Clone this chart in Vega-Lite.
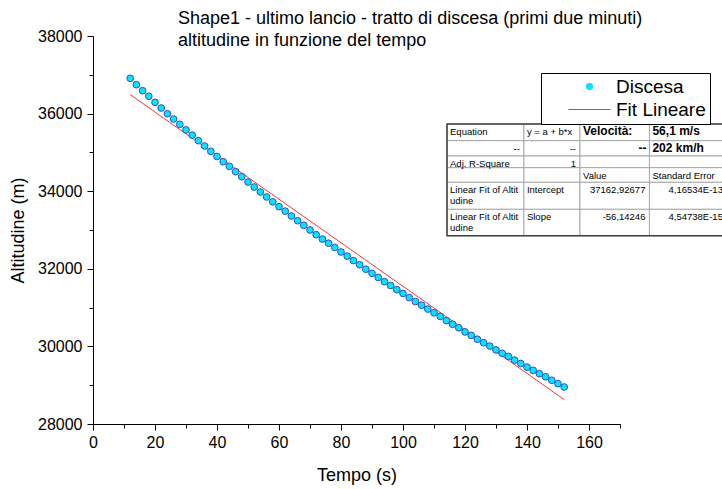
{
  "$schema": "https://vega.github.io/schema/vega-lite/v6.json",
  "width": 527,
  "height": 388,
  "autosize": {"type": "none"},
  "padding": {"left": 93, "top": 36, "right": 102, "bottom": 65},
  "background": "white",
  "config": {
    "view": {"stroke": null},
    "font": "Liberation Sans",
    "axis": {"grid": false, "domainColor": "black", "tickColor": "black", "labelColor": "black", "titleColor": "black", "labelFont": "Liberation Sans", "titleFont": "Liberation Sans", "titleFontWeight": "normal", "labelFontSize": 16, "titleFontSize": 18},
    "legend": {
      "orient": "none", "legendX": 448, "legendY": 37,
      "strokeColor": "black", "fillColor": "white", "padding": 4,
      "labelFontSize": 19, "labelFont": "Liberation Sans", "labelColor": "black",
      "symbolSize": 100, "symbolOffset": 35, "labelOffset": 17, "rowPadding": 3
    }
  },
  "title": {
    "text": ["Shape1 - ultimo lancio - tratto di discesa (primi due minuti)", "altitudine in funzione del tempo"],
    "anchor": "start", "frame": "group", "dx": 85, "offset": -22,
    "fontSize": 18, "fontWeight": "normal", "font": "Liberation Sans", "lineHeight": 22, "color": "black"
  },
  "datasets": {
    "discesa": [
      {"t": 12, "alt": 36910}, {"t": 14, "alt": 36745}, {"t": 16, "alt": 36590}, {"t": 18, "alt": 36446},
      {"t": 20, "alt": 36290}, {"t": 22, "alt": 36144}, {"t": 24, "alt": 35997}, {"t": 26, "alt": 35861},
      {"t": 28, "alt": 35724}, {"t": 30, "alt": 35580}, {"t": 32, "alt": 35445}, {"t": 34, "alt": 35302},
      {"t": 36, "alt": 35165}, {"t": 38, "alt": 35028}, {"t": 40, "alt": 34895}, {"t": 42, "alt": 34760},
      {"t": 44, "alt": 34640}, {"t": 46, "alt": 34503}, {"t": 48, "alt": 34374}, {"t": 50, "alt": 34235},
      {"t": 52, "alt": 34108}, {"t": 54, "alt": 33979}, {"t": 56, "alt": 33851}, {"t": 58, "alt": 33725},
      {"t": 60, "alt": 33601}, {"t": 62, "alt": 33485}, {"t": 64, "alt": 33361}, {"t": 66, "alt": 33240},
      {"t": 68, "alt": 33121}, {"t": 70, "alt": 33000}, {"t": 72, "alt": 32879}, {"t": 74, "alt": 32765},
      {"t": 76, "alt": 32660}, {"t": 78, "alt": 32549}, {"t": 80, "alt": 32433}, {"t": 82, "alt": 32328},
      {"t": 84, "alt": 32212}, {"t": 86, "alt": 32104}, {"t": 88, "alt": 31990}, {"t": 90, "alt": 31884},
      {"t": 92, "alt": 31778}, {"t": 94, "alt": 31668}, {"t": 96, "alt": 31570}, {"t": 98, "alt": 31463},
      {"t": 100, "alt": 31365}, {"t": 102, "alt": 31258}, {"t": 104, "alt": 31156}, {"t": 106, "alt": 31062},
      {"t": 108, "alt": 30962}, {"t": 110, "alt": 30866}, {"t": 112, "alt": 30772}, {"t": 114, "alt": 30665},
      {"t": 116, "alt": 30572}, {"t": 118, "alt": 30480}, {"t": 120, "alt": 30374}, {"t": 122, "alt": 30284},
      {"t": 124, "alt": 30185}, {"t": 126, "alt": 30095}, {"t": 128, "alt": 30008}, {"t": 130, "alt": 29910},
      {"t": 132, "alt": 29822}, {"t": 134, "alt": 29742}, {"t": 136, "alt": 29645}, {"t": 138, "alt": 29559},
      {"t": 140, "alt": 29466}, {"t": 142, "alt": 29384}, {"t": 144, "alt": 29296}, {"t": 146, "alt": 29217},
      {"t": 148, "alt": 29128}, {"t": 150, "alt": 29040}, {"t": 152, "alt": 28954}
    ],
    "fit": [
      {"t": 12, "alt": 36489.2},
      {"t": 152, "alt": 28629.3}
    ],
    "tabcol": [
      {"col": 0, "x0": 114.2, "x1": 139.0},
      {"col": 1, "x0": 139.0, "x1": 157.1},
      {"col": 2, "x0": 157.1, "x1": 179.5},
      {"col": 3, "x0": 179.5, "x1": 204.5}
    ],
    "tabrow": [
      {"row": 0, "ytop": 35732, "ybot": 35302},
      {"row": 1, "ytop": 35302, "ybot": 34907},
      {"row": 2, "ytop": 34907, "ybot": 34606},
      {"row": 3, "ytop": 34606, "ybot": 34229},
      {"row": 4, "ytop": 34229, "ybot": 33533},
      {"row": 5, "ytop": 33533, "ybot": 32853}
    ],
    "cells": [
      {"row": 0, "col": 0, "text": "Equation"},
      {"row": 0, "col": 1, "text": "y = a + b*x"},
      {"row": 0, "col": 2, "text": "Velocità:"},
      {"row": 0, "col": 3, "text": "56,1 m/s"},
      {"row": 1, "col": 0, "text": "--"},
      {"row": 1, "col": 1, "text": "--"},
      {"row": 1, "col": 2, "text": "--"},
      {"row": 1, "col": 3, "text": "202 km/h"},
      {"row": 2, "col": 0, "text": "Adj. R-Square"},
      {"row": 2, "col": 1, "text": "1"},
      {"row": 2, "col": 2, "text": ""},
      {"row": 2, "col": 3, "text": ""},
      {"row": 3, "col": 0, "text": ""},
      {"row": 3, "col": 1, "text": ""},
      {"row": 3, "col": 2, "text": "Value"},
      {"row": 3, "col": 3, "text": "Standard Error"},
      {"row": 4, "col": 0, "text": ["Linear Fit of Altit", "udine"]},
      {"row": 4, "col": 1, "text": "Intercept"},
      {"row": 4, "col": 2, "text": "37162,92677"},
      {"row": 4, "col": 3, "text": "4,16534E-13"},
      {"row": 5, "col": 0, "text": ["Linear Fit of Altit", "udine"]},
      {"row": 5, "col": 1, "text": "Slope"},
      {"row": 5, "col": 2, "text": "-56,14246"},
      {"row": 5, "col": 3, "text": "4,54738E-15"}
    ]
  },
  "encoding": {
    "x": {"field": "t", "type": "quantitative", "scale": {"domain": [0, 170], "nice": false, "zero": false},
      "axis": {"title": "Tempo (s)", "values": [0,10,20,30,40,50,60,70,80,90,100,110,120,130,140,150,160,170],
        "labelExpr": "datum.value % 20 === 0 ? datum.label : ''", "format": "d",
        "tickSize": {"condition": {"test": "datum.value % 20 === 0", "value": 6}, "value": 4},
        "labelPadding": 4, "titlePadding": 16, "labelFlush": false, "labelOverlap": false}},
    "y": {"field": "alt", "type": "quantitative", "scale": {"domain": [28000, 38000], "nice": false, "zero": false},
      "axis": {"title": "Altitudine (m)", "values": [28000,29000,30000,31000,32000,33000,34000,35000,36000,37000,38000],
        "labelExpr": "datum.value % 2000 === 0 ? datum.label : ''", "format": "d",
        "tickSize": {"condition": {"test": "datum.value % 2000 === 0", "value": 6}, "value": 4},
        "labelPadding": 5, "titlePadding": 10, "labelFlush": false, "labelOverlap": false}}
  },
  "layer": [
    {
      "data": {"name": "fit"},
      "mark": {"type": "line", "strokeWidth": 1, "clip": false},
      "encoding": {
        "color": {"datum": "Fit Lineare", "type": "nominal",
          "scale": {"domain": ["Discesa", "Fit Lineare"], "range": ["#00e8ff", "#ff3333"]},
          "legend": {
            "title": null,
            "labelExpr": "datum.label + '\u00a0\u00a0\u00a0\u00a0\u00a0\u00a0'",
            "encode": {"symbols": {"update": {
              "shape": {"signal": "datum.value === 'Discesa' ? 'circle' : 'M-4,0H4'"},
              "size": {"signal": "datum.value === 'Discesa' ? 42 : 110"},
              "fill": {"signal": "datum.value === 'Discesa' ? '#00e8ff' : 'transparent'"},
              "stroke": {"signal": "datum.value === 'Discesa' ? '#3b4cc0' : '#ff3333'"},
              "strokeWidth": {"value": 1},
              "opacity": {"value": 1}
            }}}
          }}
      }
    },
    {
      "data": {"name": "discesa"},
      "mark": {"type": "point", "filled": true, "size": 45, "stroke": "#3b4cc0", "strokeWidth": 1, "opacity": 1, "clip": false},
      "encoding": {
        "color": {"datum": "Discesa", "type": "nominal", "legend": null}
      }
    },
    {
      "data": {"name": "cells"},
      "transform": [
        {"lookup": "col", "from": {"data": {"name": "tabcol"}, "key": "col", "fields": ["x0", "x1"]}, "as": ["t", "x1"]},
        {"lookup": "row", "from": {"data": {"name": "tabrow"}, "key": "row", "fields": ["ytop", "ybot"]}, "as": ["alt", "ybot"]}
      ],
      "mark": {"type": "rect", "fill": "white", "stroke": "#a8a8a8", "strokeWidth": 1, "clip": false},
      "encoding": {
        "x2": {"field": "x1"},
        "y2": {"field": "ybot"}
      }
    },
    {
      "data": {"name": "cells"},
      "transform": [
        {"lookup": "col", "from": {"data": {"name": "tabcol"}, "key": "col", "fields": ["x0", "x1"]}},
        {"lookup": "row", "from": {"data": {"name": "tabrow"}, "key": "row", "fields": ["ytop", "ybot"]}},
        {"aggregate": [{"op": "min", "field": "x0", "as": "t"}, {"op": "max", "field": "x1", "as": "x1"}, {"op": "max", "field": "ytop", "as": "alt"}, {"op": "min", "field": "ybot", "as": "ybot"}]}
      ],
      "mark": {"type": "rect", "fill": null, "fillOpacity": 0, "stroke": "#404040", "strokeWidth": 1.5, "clip": false},
      "encoding": {
        "x2": {"field": "x1"},
        "y2": {"field": "ybot"}
      }
    },
    {
      "data": {"name": "cells"},
      "transform": [
        {"filter": "!(datum.row < 2 && datum.col >= 2) && !test(/^[-0-9,E]+$/, datum.text)"},
        {"lookup": "col", "from": {"data": {"name": "tabcol"}, "key": "col", "fields": ["x0"]}, "as": ["t"]},
        {"lookup": "row", "from": {"data": {"name": "tabrow"}, "key": "row", "fields": ["ytop"]}, "as": ["alt"]}
      ],
      "mark": {"type": "text", "align": "left", "baseline": "top", "dx": 3, "dy": 3, "fontSize": 9.5, "font": "Liberation Sans", "color": "black", "lineHeight": 11, "clip": false},
      "encoding": {
        "text": {"field": "text"}
      }
    },
    {
      "data": {"name": "cells"},
      "transform": [
        {"filter": "!(datum.row < 2 && datum.col >= 2) && test(/^[-0-9,E]+$/, datum.text)"},
        {"lookup": "col", "from": {"data": {"name": "tabcol"}, "key": "col", "fields": ["x1"]}, "as": ["t"]},
        {"lookup": "row", "from": {"data": {"name": "tabrow"}, "key": "row", "fields": ["ytop"]}, "as": ["alt"]}
      ],
      "mark": {"type": "text", "align": "right", "baseline": "top", "dx": -4, "dy": 3, "fontSize": 9.5, "font": "Liberation Sans", "color": "black", "clip": false},
      "encoding": {
        "text": {"field": "text"}
      }
    },
    {
      "data": {"name": "cells"},
      "transform": [
        {"filter": "(datum.row < 2 && datum.col >= 2) && !test(/^[-0-9,E]+$/, datum.text)"},
        {"lookup": "col", "from": {"data": {"name": "tabcol"}, "key": "col", "fields": ["x0"]}, "as": ["t"]},
        {"lookup": "row", "from": {"data": {"name": "tabrow"}, "key": "row", "fields": ["ytop"]}, "as": ["alt"]}
      ],
      "mark": {"type": "text", "align": "left", "baseline": "top", "dx": 3, "dy": 2, "fontSize": 12, "fontWeight": "bold", "font": "Liberation Sans", "color": "black", "clip": false},
      "encoding": {
        "text": {"field": "text"}
      }
    },
    {
      "data": {"name": "cells"},
      "transform": [
        {"filter": "(datum.row < 2 && datum.col >= 2) && test(/^[-0-9,E]+$/, datum.text)"},
        {"lookup": "col", "from": {"data": {"name": "tabcol"}, "key": "col", "fields": ["x1"]}, "as": ["t"]},
        {"lookup": "row", "from": {"data": {"name": "tabrow"}, "key": "row", "fields": ["ytop"]}, "as": ["alt"]}
      ],
      "mark": {"type": "text", "align": "right", "baseline": "top", "dx": -3, "dy": 2, "fontSize": 12, "fontWeight": "bold", "font": "Liberation Sans", "color": "black", "clip": false},
      "encoding": {
        "text": {"field": "text"}
      }
    }
  ]
}
